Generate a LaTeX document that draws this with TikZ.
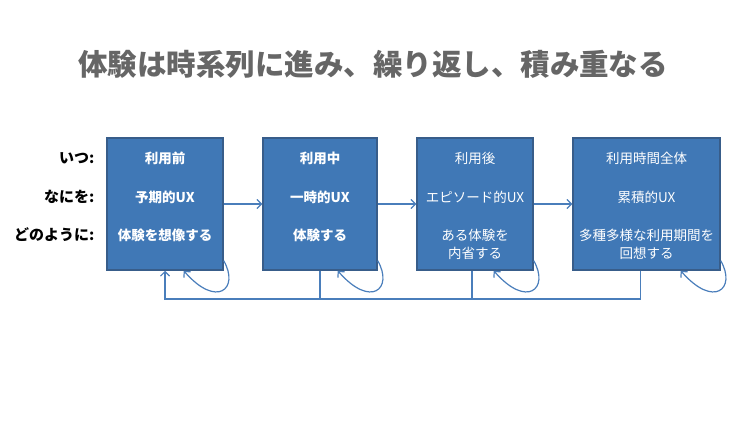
\documentclass[tikz,border=0pt]{standalone}
\usepackage{fontspec}
\setmainfont{Noto Sans CJK JP}
\usetikzlibrary{arrows.meta}
\definecolor{boxblue}{RGB}{64,120,182}
\definecolor{boxedge}{RGB}{56,93,138}
\definecolor{linkblue}{RGB}{74,126,187}
\definecolor{titlegray}{RGB}{102,102,102}
\begin{document}
\begin{tikzpicture}[x=1pt, y=-1pt,
  stage/.style={draw=boxedge, line width=1.5pt, fill=boxblue, minimum height=132pt, inner sep=0pt},
  intext/.style={text=white, font=\fontsize{13.5}{18}\selectfont, align=center},
  rowlabel/.style={anchor=east, font=\fontsize{15}{18}\selectfont\bfseries},
  flow/.style={draw=linkblue, line width=1.2pt, -{Straight Barb[length=4.5pt,width=9pt]}}]
\useasboundingbox (0,0) rectangle (750,422);
% title
\node[text=titlegray, font=\fontsize{29.5}{34}\selectfont\bfseries] (title) at (373,64) {体験は時系列に進み、繰り返し、積み重なる};
% row labels
\node[rowlabel] (when) at (98,158) {いつ:};
\node[rowlabel] (what) at (98,197) {なにを:};
\node[rowlabel] (how) at (98,235) {どのように:};
% stages
\node[stage, minimum width=116pt] (b1) at (165,204) {};
\node[stage, minimum width=114pt] (b2) at (320,204) {};
\node[stage, minimum width=116pt] (b3) at (475,204) {};
\node[stage, minimum width=147pt] (b4) at (646.5,204) {};
\node[intext, font=\fontsize{13.5}{18}\selectfont\bfseries] (t11) at (165,158) {利用前};
\node[intext, font=\fontsize{13.5}{18}\selectfont\bfseries] (t12) at (165,197) {予期的UX};
\node[intext, font=\fontsize{13.5}{18}\selectfont\bfseries] (t13) at (165,235) {体験を想像する};
\node[intext, font=\fontsize{13.5}{18}\selectfont\bfseries] (t21) at (320,158) {利用中};
\node[intext, font=\fontsize{13.5}{18}\selectfont\bfseries] (t22) at (320,197) {一時的UX};
\node[intext, font=\fontsize{13.5}{18}\selectfont\bfseries] (t23) at (320,235) {体験する};
\node[intext] (t31) at (475,158) {利用後};
\node[intext] (t32) at (475,197) {エピソード的UX};
\node[intext] (t33) at (475,244) {ある体験を\\内省する};
\node[intext] (t41) at (646.5,158) {利用時間全体};
\node[intext] (t42) at (646.5,197) {累積的UX};
\node[intext] (t43) at (646.5,244) {多種多様な利用期間を\\回想する};
% forward
\draw[flow] (b1) -- (b2);
\draw[flow] (b2) -- (b3);
\draw[flow] (b3) -- (b4);
% repeat
\foreach \b in {b1,b2,b3,b4}
  \draw[flow] ([yshift=10pt]\b.south east) .. controls +(16,28) and +(33,38) .. ([xshift=-40pt]\b.south east);
% back
\coordinate (back) at (165,299);
\draw[flow] ([xshift=-6pt]b4.south) |- (back) -- (b1.south);
\draw[draw=linkblue, line width=1.2pt] (b2.south) -- (b2.south |- back);
\draw[draw=linkblue, line width=1.2pt] ([xshift=-3pt]b3.south) -- ([xshift=-3pt]b3.south |- back);
\end{tikzpicture}
\end{document}
